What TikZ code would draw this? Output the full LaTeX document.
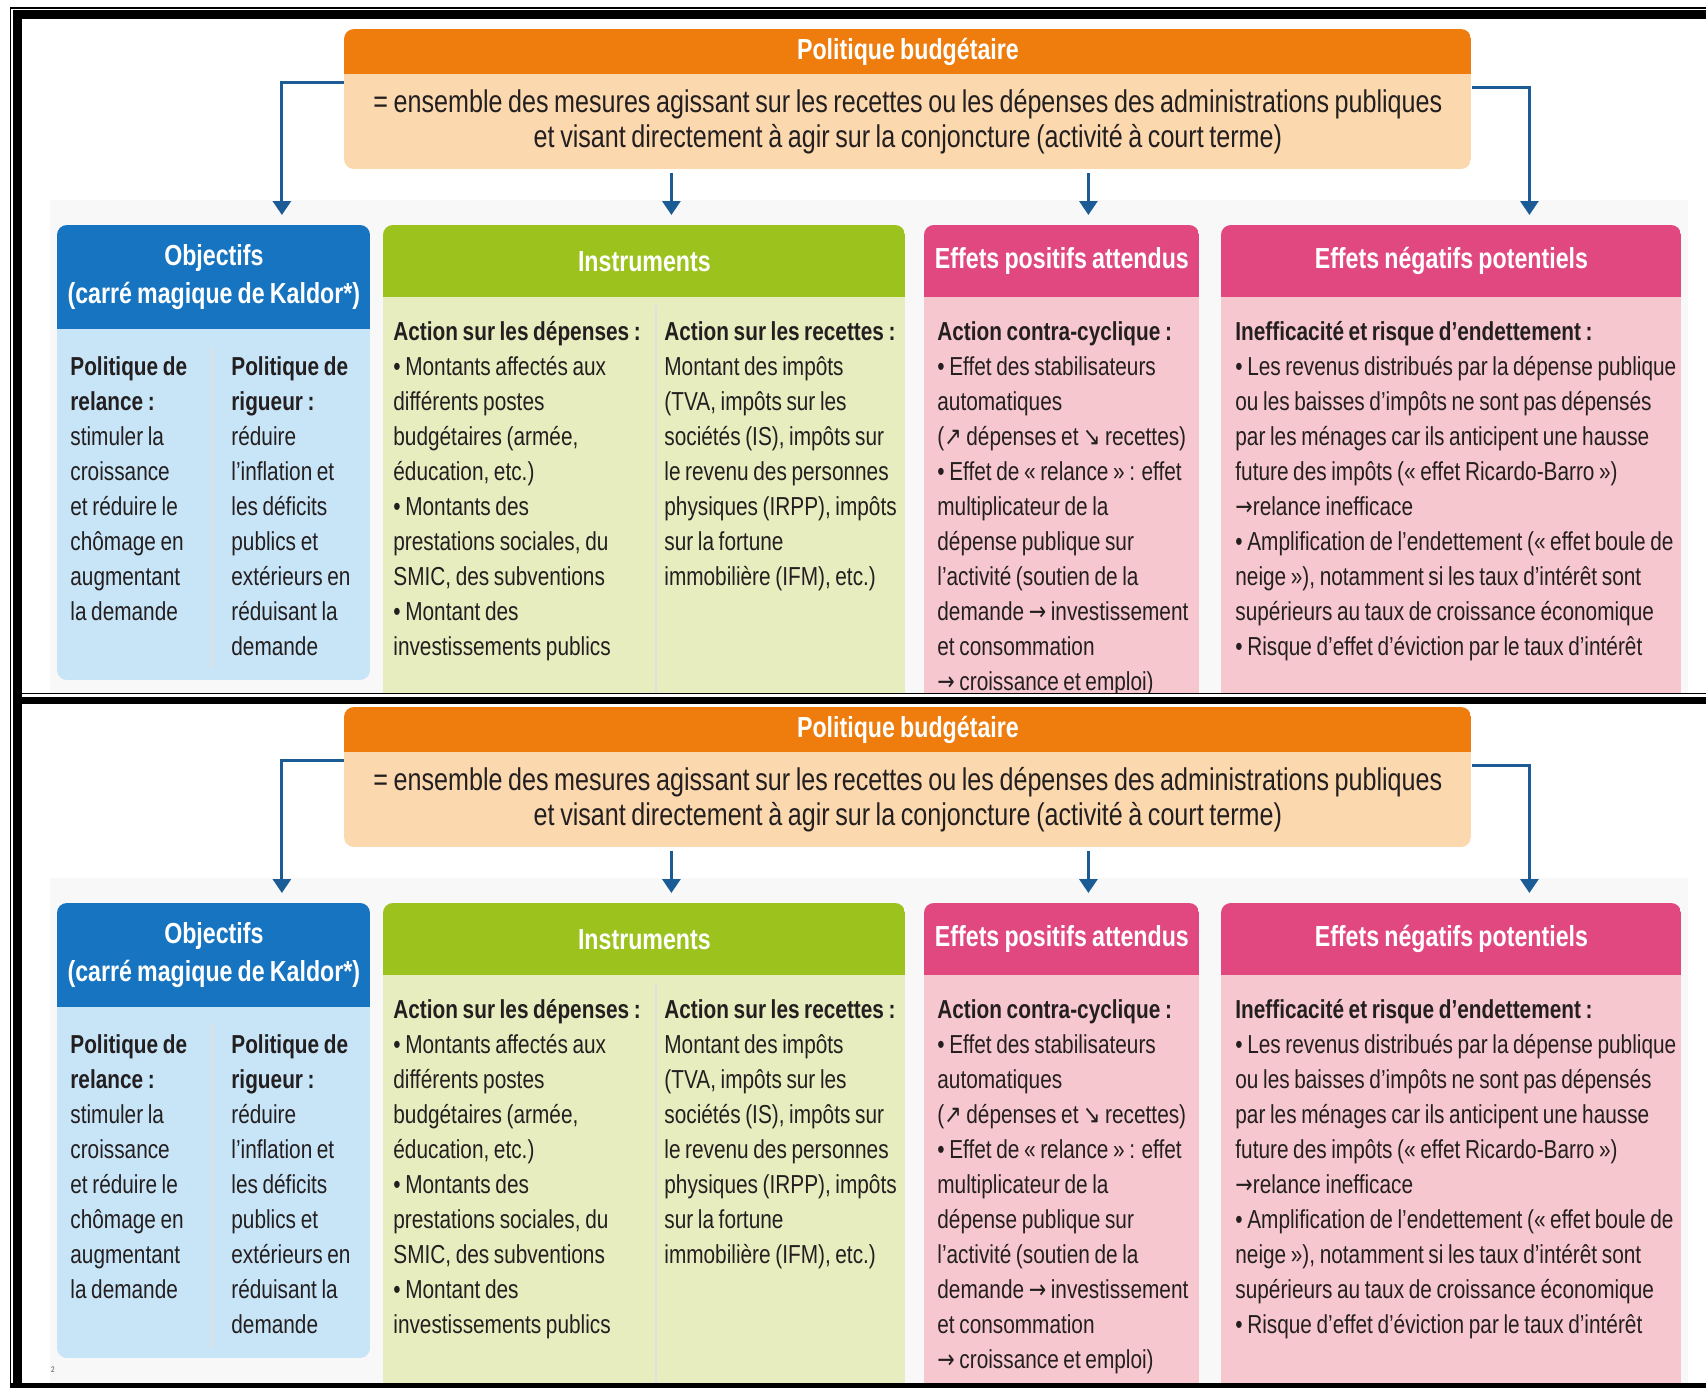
\documentclass[tikz,border=0pt]{standalone}
\usepackage{fontspec}
\setmainfont{Liberation Sans}[FakeStretch=0.8, WordSpace=0.8]
\newfontfamily\arrowfont{DejaVu Sans}[FakeStretch=0.8]
\usetikzlibrary{arrows.meta}
\definecolor{orangeH}{RGB}{238,125,14}
\definecolor{peach}{RGB}{251,216,173}
\definecolor{arrowblue}{RGB}{27,92,150}
\definecolor{blueH}{RGB}{22,116,192}
\definecolor{blueL}{RGB}{200,228,247}
\definecolor{greenH}{RGB}{156,194,30}
\definecolor{greenL}{RGB}{231,237,190}
\definecolor{pinkH}{RGB}{225,72,128}
\definecolor{pinkL}{RGB}{247,199,207}
\definecolor{txt}{RGB}{35,31,32}
\definecolor{shadebg}{RGB}{248,248,248}
\newcommand{\arrNE}{{\arrowfont ↗}}
\newcommand{\arrSE}{{\arrowfont ↘}}
\newcommand{\arrR}{{\arrowfont →}}
\tikzset{
  bodytext/.style={anchor=north west, inner sep=0pt, align=left,
    font=\fontsize{13}{17.5}\selectfont, text=txt},
  hdrbox/.style={anchor=north west, inner sep=0pt, align=center,
    font=\fontsize{14.5}{19}\selectfont\bfseries, text=white},
  conn/.style={draw=arrowblue, line width=1.5pt,
    -{Triangle[width=9pt,length=7pt]}, shorten >=5pt},
  divider/.style={draw=white!88!black, line width=0.8pt},
}
% #1 suffix, #2 yshift, #3 clip top (local), #4 clip bottom (local)
\newcommand{\budgetcopy}[4]{%
\begin{scope}[yshift=#2]
\begin{scope}
\clip (0,#3) rectangle (1706,#4);
\fill[shadebg] (50,200) rectangle (1688,760);
% top block
\begin{scope}
\clip[rounded corners=5pt] (344,29) rectangle (1471,169);
\node[hdrbox, fill=orangeH, minimum width=563.5pt, minimum height=22.5pt] (ob#1) at (344,29) {Politique budgétaire};
\node[hdrbox, fill=peach, text=txt, font=\fontsize{15.7}{17.5}\selectfont, minimum width=563.5pt, minimum height=47.5pt] (pe#1) at (344,74)
  {= ensemble des mesures agissant sur les recettes ou les dépenses des administrations publiques\\et visant directement à agir sur la conjoncture (activité à court terme)};
\end{scope}
% blue box
\begin{scope}
\clip[rounded corners=5pt] (57,225) rectangle (370,680);
\fill[blueL] (57,225) rectangle (370,680);
\node[hdrbox, fill=blueH, minimum width=156.5pt, minimum height=52pt] (obj#1) at (57,225) {Objectifs\\(carré magique de Kaldor*)};
\end{scope}
\draw[divider] (212,346) -- (212,669);
% green box
\begin{scope}
\clip[rounded corners=5pt] (383,225) rectangle (905,780);
\fill[greenL] (383,225) rectangle (905,780);
\node[hdrbox, fill=greenH, minimum width=261pt, minimum height=36pt] (ins#1) at (383,225) {Instruments};
\end{scope}
\draw[divider] (656,305) -- (656,780);
% pink box 1
\begin{scope}
\clip[rounded corners=5pt] (924,225) rectangle (1199,780);
\fill[pinkL] (924,225) rectangle (1199,780);
\node[hdrbox, fill=pinkH, minimum width=137.5pt, minimum height=36pt] (pos#1) at (924,225) {Effets positifs attendus};
\end{scope}
% pink box 2
\begin{scope}
\clip[rounded corners=5pt] (1221,225) rectangle (1681,780);
\fill[pinkL] (1221,225) rectangle (1681,780);
\node[hdrbox, fill=pinkH, minimum width=230pt, minimum height=36pt] (neg#1) at (1221,225) {Effets négatifs potentiels};
\end{scope}
% connectors
\coordinate (ma#1) at ([xshift=-118.25pt]pe#1.south);
\coordinate (mb#1) at ([xshift=90.25pt]pe#1.south);
\draw[conn] ([yshift=-4pt]pe#1.north west) -| ([xshift=34pt]obj#1.north);
\draw[conn] ([yshift=-6.5pt]pe#1.north east) -| ([xshift=39pt]neg#1.north);
\draw[conn, shorten <=1.5pt] (ma#1) -- (ma#1 |- ins#1.north);
\draw[conn, shorten <=1.5pt] (mb#1) -- (mb#1 |- pos#1.north);
% texts
\node[bodytext] (b1#1) at (70,350.5) {\strut\textbf{Politique de}\\\textbf{relance :}\\stimuler la\\croissance\\et réduire le\\chômage en\\augmentant\\la demande};
\node[bodytext] (b2#1) at (231,350.5) {\strut\textbf{Politique de}\\\textbf{rigueur :}\\réduire\\l’inflation et\\les déficits\\publics et\\extérieurs en\\réduisant la\\demande};
\node[bodytext] (g1#1) at (393,315.5) {\strut\textbf{Action sur les dépenses :}\\• Montants affectés aux\\différents postes\\budgétaires (armée,\\éducation, etc.)\\• Montants des\\prestations sociales, du\\SMIC, des subventions\\• Montant des\\investissements publics};
\node[bodytext] (g2#1) at (664,315.5) {\strut\textbf{Action sur les recettes :}\\Montant des impôts\\(TVA, impôts sur les\\sociétés (IS), impôts sur\\le revenu des personnes\\physiques (IRPP), impôts\\sur la fortune\\immobilière (IFM), etc.)};
\node[bodytext] (p1#1) at (937,315.5) {\strut\textbf{Action contra-cyclique :}\\• Effet des stabilisateurs\\automatiques\\(\arrNE\ dépenses et \arrSE\ recettes)\\• Effet de « relance » : effet\\multiplicateur de la\\dépense publique sur\\l’activité (soutien de la\\demande \arrR\ investissement\\et consommation\\\arrR\ croissance et emploi)};
\node[bodytext] (p2#1) at (1235,315.5) {\strut\textbf{Inefficacité et risque d’endettement :}\\• Les revenus distribués par la dépense publique\\ou les baisses d’impôts ne sont pas dépensés\\par les ménages car ils anticipent une hausse\\future des impôts (« effet Ricardo-Barro »)\\\arrR relance inefficace\\• Amplification de l’endettement (« effet boule de\\neige »), notamment si les taux d’intérêt sont\\supérieurs au taux de croissance économique\\• Risque d’effet d’éviction par le taux d’intérêt};
\end{scope}
\end{scope}}
\begin{document}
\begin{tikzpicture}[x=0.5pt, y=-0.5pt]
\useasboundingbox (0,0) rectangle (1706,1388);
\fill[white] (0,0) rectangle (1706,1388);
\budgetcopy{A}{0pt}{0}{692.5}
\budgetcopy{B}{-339pt}{27}{705}
% page frame
\fill[black] (9.5,7) rectangle (1706,8.5);
\fill[black] (13,10) rectangle (1706,19);
\fill[black] (9.5,7) rectangle (11,1388);
\fill[black] (13,10) rectangle (22,1388);
\fill[black] (13,692.5) rectangle (1706,694);
\fill[black] (13,697) rectangle (1706,704);
\fill[black] (9.5,1383) rectangle (1706,1388);
\node[font=\fontsize{4}{4}\selectfont, text=black!70, inner sep=0pt] (pg) at (53,1370) {2};
\end{tikzpicture}
\end{document}
